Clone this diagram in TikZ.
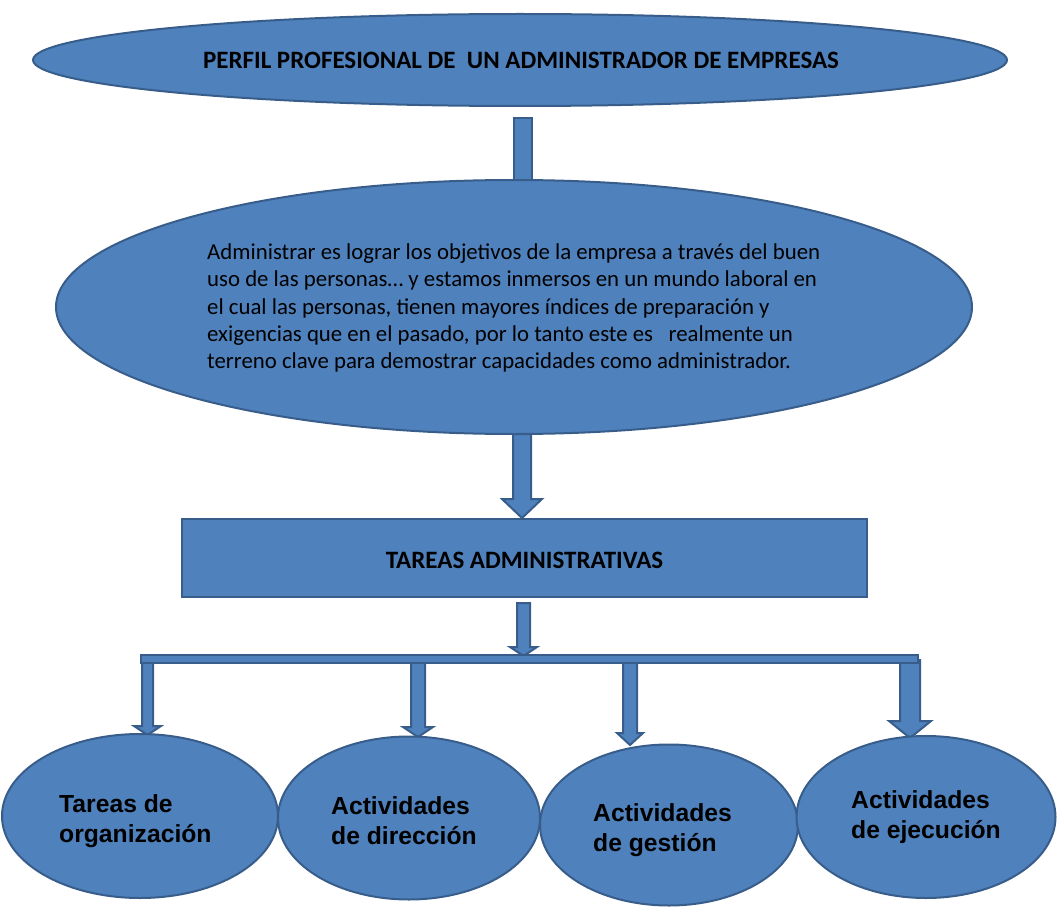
\documentclass[tikz,border=0pt]{standalone}
\usepackage{fontspec}
\setmainfont{Carlito}
\newfontfamily\arialf{Liberation Sans}
\usetikzlibrary{shapes.geometric,calc}
\definecolor{bfill}{HTML}{4F81BD}
\definecolor{bline}{HTML}{385D8A}
\tikzset{
  shp/.style={fill=bfill,draw=bline,line width=2pt},
  oval/.style={shp,ellipse,inner sep=0pt},
  ttl/.style={font=\bfseries\fontsize{25}{30}\selectfont,text=black},
  btxt/.style={font=\arialf\bfseries\fontsize{24.7}{30}\selectfont,align=left,anchor=west,text=black,inner sep=0pt},
}
% block arrow: #1 start, #2 tip, #3 shaft half width, #4 head half width, #5 head length
\newcommand\blockarrow[5]{%
  \path[shp] let \p1=(#1), \p2=(#2) in
    (\x1-#3pt,\y1) -- (\x1+#3pt,\y1) -- (\x1+#3pt,\y2+#5pt) -- (\x1+#4pt,\y2+#5pt)
    -- (\x1,\y2) -- (\x1-#4pt,\y2+#5pt) -- (\x1-#3pt,\y2+#5pt) -- cycle;}
\begin{document}
\begin{tikzpicture}[x=1pt,y=-1pt]
\useasboundingbox (0,0) rectangle (1058,915);
% top connector (behind ellipses)
\coordinate (c1s) at (523,118);
\coordinate (c1e) at (523,190);
\path[shp] let \p1=(c1s), \p2=(c1e) in (\x1-9pt,\y1) rectangle (\x1+9pt,\y2);
\node[oval,minimum width=974,minimum height=92] (top) at (520,60) {};
\node[ttl] (toptxt) at (521,60) {PERFIL PROFESIONAL DE \ UN ADMINISTRADOR DE EMPRESAS};
\node[oval,minimum width=916,minimum height=254] (big) at (514,307) {};
\node[font=\fontsize{22.8}{27.4}\selectfont,align=left,anchor=west,inner sep=0pt] (bigtxt) at (207,308)
 {Administrar es lograr los objetivos de la empresa a través del buen\\
  uso de las personas… y estamos inmersos en un mundo laboral en\\
  el cual las personas, tienen mayores índices de preparación y\\
  exigencias que en el pasado, por lo tanto este es \ \ realmente un\\
  terreno clave para demostrar capacidades como administrador.};
% second arrow
\coordinate (a2s) at (522,434);
\coordinate (a2e) at (522,518);
\blockarrow{a2s}{a2e}{9}{20}{19}
\node[shp,minimum width=685,minimum height=78,inner sep=0pt] (tareas) at (524.5,558) {};
\node[ttl] (tareastxt) at (524.5,560) {TAREAS ADMINISTRATIVAS};
% third arrow
\coordinate (a3s) at (523.5,603);
\coordinate (a3e) at (523.5,656);
\blockarrow{a3s}{a3e}{6.5}{13.5}{9}
% branch arrows
\coordinate (b1s) at (147.5,660);
\coordinate (b1e) at (147.5,735);
\coordinate (b2s) at (418,660);
\coordinate (b2e) at (418,737);
\coordinate (b3s) at (630,660);
\coordinate (b3e) at (630,745);
\coordinate (b4s) at (910,660);
\coordinate (b4e) at (910,738);
\blockarrow{b1s}{b1e}{5.5}{13.5}{9}
\blockarrow{b2s}{b2e}{7}{15}{10}
\blockarrow{b3s}{b3e}{7}{13}{12}
\blockarrow{b4s}{b4e}{10}{21}{17}
% horizontal bar
\coordinate (barl) at (141,655);
\coordinate (barr) at (918,663);
\path[shp,line width=1.6pt] (barl) rectangle (barr);
% bottom ellipses
\node[oval,minimum width=276,minimum height=164] (e1) at (140,816) {};
\node[oval,minimum width=262,minimum height=163] (e2) at (409,818) {};
\node[oval,minimum width=258,minimum height=161] (e3) at (669,825) {};
\node[oval,minimum width=259,minimum height=162] (e4) at (926,817) {};
\node[btxt] (t1) at (59,821) {Tareas de\\organización};
\node[btxt] (t2) at (331,821) {Actividades\\de dirección};
\node[btxt] (t3) at (593,830) {Actividades\\de gestión};
\node[btxt] (t4) at (851,817) {Actividades\\de ejecución};
\end{tikzpicture}
\end{document}
